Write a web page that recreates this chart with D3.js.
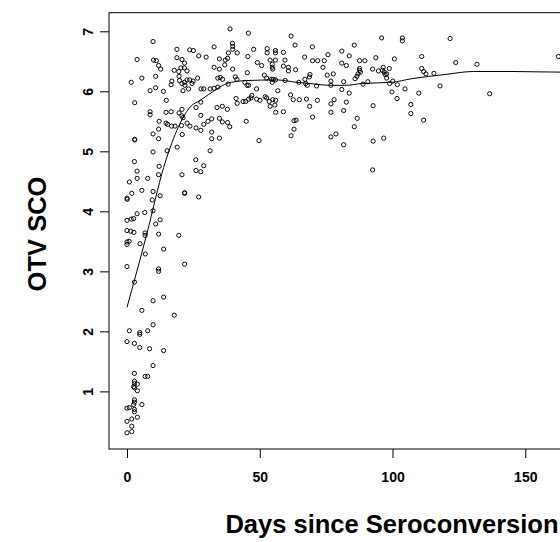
<!DOCTYPE html>
<html>
<head>
<meta charset="utf-8">
<script src="https://cdn.jsdelivr.net/npm/d3@7"></script>
<style>
  html, body { margin: 0; padding: 0; background: #fff; }
  svg { display: block; font-family: "Liberation Sans", Arial, Helvetica, sans-serif; }
</style>
</head>
<body>
<svg id="chart" width="560" height="542"></svg>
<script>
// ---- data ----
const days = [
  9.8,3.8,18.8,23.6,25.0,27.0,29.8,10.0,11.0,11.9,12.7,18.8,20.7,21.7,17.8,19.5,20.3,21.6,22.6,10.8,
  5.6,1.6,16.9,16.6,19.6,19.8,20.7,21.6,22.6,23.6,24.9,26.6,21.8,23.2,21.1,24.5,8.7,10.8,13.7,27.9,
  28.9,2.9,14.8,26.0,27.8,8.7,8.7,14.7,16.6,19.6,20.7,20.7,21.1,27.8,12.1,14.7,15.3,16.8,18.1,20.5,
  22.6,23.7,26.0,27.8,28.9,30.5,11.9,9.8,11.9,20.8,2.9,2.9,18.9,15.1,9.8,25.9,28.9,2.8,12.1,
  38.8,45.7,61.8,32.8,39.7,39.8,39.8,38.2,41.5,47.7,52.8,52.8,55.9,55.9,58.9,63.3,69.8,34.8,37.0,37.9,
  45.5,53.9,55.9,54.7,54.7,54.9,49.1,50.7,59.5,58.9,60.8,60.8,63.5,66.9,69.9,71.8,74.3,73.8,32.8,34.8,
  36.8,39.8,34.2,35.1,36.0,40.8,41.4,45.3,44.4,45.2,45.8,51.7,52.6,54.4,55.1,55.9,54.7,59.6,64.7,67.0,
  67.3,67.9,68.9,68.7,71.4,38.1,31.3,32.8,34.2,48.8,56.8,41.1,41.5,43.7,44.7,45.8,47.0,46.7,48.8,50.1,
  52.0,52.6,53.6,54.9,56.0,55.7,53.9,61.6,62.6,64.9,67.6,68.8,71.7,33.9,35.9,37.8,56.0,58.9,69.9,31.9,
  34.8,35.9,37.9,38.7,44.9,62.9,63.7,62.9,61.8,31.9,34.8,31.9,49.7,31.3,
  95.9,103.7,103.7,85.6,75.7,80.9,83.7,80.9,82.6,87.6,89.6,93.7,100.7,111.0,87.6,87.6,87.9,87.0,85.9,86.6,
  92.5,94.7,96.5,96.2,96.9,97.2,97.8,98.8,97.8,100.1,98.9,101.8,111.0,111.7,112.6,115.6,117.9,75.4,77.7,76.8,
  76.8,81.6,88.9,90.7,80.9,83.7,99.8,101.7,104.7,109.9,78.0,76.8,76.8,82.6,81.6,92.7,106.9,106.9,86.7,85.6,
  111.7,76.8,78.7,81.6,92.7,96.7,
  121.7,123.8,131.8,162.5,136.6,92.5,
  11.9,3.8,3.8,0.9,7.8,20.7,26.0,27.8,21.7,21.7,27.0,1.8,0,0.1,5.6,9.8,9.5,12.5,3.8,6.7,
  9.8,0,1.6,2.5,10.8,12.5,0,1.4,2.6,6.8,6.8,11.9,19.5,0,0.8,0,4.9,13.8,6.9,0,
  11.9,11.9,21.7,2.8,9.8,13.8,5.6,
  17.8,0.9,4.8,4.8,7.8,9.8,0,2.8,4.8,8.5,13.8,9.8,2.8,6.8,7.8,2.8,2.8,3.9,2.5,2.8,
  3.9,2.8,2.8,5.6,2.5,0,0.9,2.8,2.8,3.9,1.8,0,1.8,0,1.8
];
const sco = [
  6.83,6.53,6.70,6.69,6.68,6.59,6.57,6.52,6.51,6.43,6.37,6.56,6.53,6.47,6.35,6.33,6.39,6.39,6.34,6.25,
  6.22,6.15,6.17,6.11,6.25,6.18,6.13,6.15,6.19,6.19,6.17,6.22,6.10,6.04,6.01,6.13,6.01,6.06,6.00,6.04,
  6.04,5.81,5.85,5.73,5.82,5.66,5.61,5.65,5.66,5.64,5.70,5.59,5.56,5.60,5.50,5.47,5.45,5.42,5.42,5.43,
  5.47,5.42,5.39,5.35,5.45,5.50,5.37,5.29,5.21,5.28,5.20,5.19,5.07,5.01,4.99,4.86,4.76,4.83,4.75,
  7.04,6.97,6.92,6.74,6.80,6.75,6.70,6.64,6.64,6.70,6.71,6.64,6.68,6.64,6.65,6.77,6.74,6.54,6.52,6.55,
  6.58,6.52,6.52,6.45,6.40,6.37,6.48,6.43,6.52,6.42,6.40,6.34,6.36,6.57,6.51,6.51,6.51,6.40,6.40,6.37,
  6.44,6.37,6.22,6.23,6.20,6.24,6.20,6.31,6.15,6.10,6.10,6.27,6.22,6.20,6.20,6.19,6.15,6.18,6.15,6.20,
  6.13,6.10,6.28,6.24,6.09,6.12,6.04,6.05,6.07,6.04,6.01,5.88,5.80,5.83,5.83,5.87,5.93,5.89,5.87,5.85,
  5.91,5.89,5.83,5.86,5.85,5.77,5.75,5.94,5.86,5.86,5.87,5.75,5.85,5.73,5.75,5.70,5.65,5.66,5.57,5.54,
  5.55,5.49,5.48,5.41,5.50,5.51,5.52,5.37,5.26,5.32,5.22,5.21,5.18,5.01,
  6.89,6.89,6.84,6.77,6.61,6.67,6.59,6.47,6.43,6.51,6.51,6.56,6.54,6.58,6.38,6.35,6.32,6.29,6.21,6.25,
  6.37,6.34,6.40,6.35,6.32,6.28,6.29,6.38,6.22,6.17,6.13,6.11,6.38,6.33,6.29,6.30,6.09,6.27,6.29,6.17,
  6.10,6.16,6.12,6.16,6.03,5.97,5.99,5.88,6.04,5.97,5.86,5.79,5.65,5.82,5.68,5.76,5.78,5.63,5.55,5.41,
  5.52,5.24,5.29,5.11,5.17,5.22,
  6.88,6.48,6.45,6.58,5.96,4.69,
  4.61,4.67,4.55,4.49,4.55,4.61,4.68,4.66,4.31,4.30,4.24,4.30,4.22,4.20,4.35,4.33,4.19,4.26,3.96,3.98,
  4.01,3.85,3.87,3.88,3.79,3.86,3.68,3.67,3.65,3.64,3.60,3.62,3.60,3.49,3.50,3.45,3.46,3.37,3.29,3.08,
  3.04,3.00,3.12,2.82,2.51,2.57,2.35,
  2.27,2.01,1.98,1.95,2.01,2.11,1.83,1.80,1.73,1.71,1.68,1.43,1.30,1.25,1.25,1.17,1.13,1.12,1.08,1.06,
  1.01,0.86,0.82,0.78,0.78,0.72,0.73,0.70,0.66,0.57,0.54,0.50,0.42,0.31,0.33
];
// smooth (lowess) curve
const smoothDays = [0,7.5,13.8,18.8,23.8,27.6,33.9,37.6,45.1,56.4,63.9,68.9,76.5,82.1,88.4,99.7,107.2,119.8,130.4,145,163.1,169.5];
const smoothSco  = [2.40,3.63,4.73,5.35,5.74,5.85,6.04,6.13,6.18,6.19,6.15,6.13,6.10,6.10,6.13,6.15,6.21,6.28,6.33,6.33,6.32,6.32];
const xTicks = [0,50,100,150];
const yTicks = [1,2,3,4,5,6,7];
const xTitle = "Days since Seroconversion";
const yTitle = "OTV SCO";

// ---- drawing ----
const svg = d3.select("#chart");
const pLeft = 109, pRight = 594.3, pTop = 12.7, pBottom = 449;
const x = d3.scaleLinear().domain([-6.78, 176]).range([pLeft, pRight]);
const y = d3.scaleLinear().domain([0.04, 7.31]).range([pBottom, pTop]);

const pts = days.map((d, i) => ({d, v: sco[i]}));

svg.append("g")
  .selectAll("circle")
  .data(pts)
  .join("circle")
  .attr("cx", p => x(p.d))
  .attr("cy", p => y(p.v))
  .attr("r", 2.1)
  .attr("fill", "none")
  .attr("stroke", "#000")
  .attr("stroke-width", 0.95);

const line = d3.line()
  .x((d, i) => x(smoothDays[i]))
  .y((d, i) => y(smoothSco[i]))
  .curve(d3.curveMonotoneX);
svg.append("path")
  .datum(smoothDays)
  .attr("d", line)
  .attr("fill", "none")
  .attr("stroke", "#000")
  .attr("stroke-width", 1);

// frame
svg.append("rect")
  .attr("x", pLeft).attr("y", pTop)
  .attr("width", pRight - pLeft).attr("height", pBottom - pTop)
  .attr("fill", "none").attr("stroke", "#000").attr("stroke-width", 1);

// x axis
const gx = svg.append("g")
  .attr("transform", `translate(0,${pBottom})`)
  .call(d3.axisBottom(x).tickValues(xTicks).tickSize(9).tickPadding(14).tickFormat(d3.format("d")));
gx.select(".domain").remove();
gx.selectAll("line").attr("stroke", "#000");
gx.selectAll("text")
  .attr("font-family", "Liberation Sans, Arial, sans-serif")
  .attr("font-size", 14).attr("font-weight", "bold").attr("fill", "#000");

// y axis
const gy = svg.append("g")
  .attr("transform", `translate(${pLeft},0)`)
  .call(d3.axisLeft(y).tickValues(yTicks).tickSize(9).tickFormat(d3.format("d")));
gy.select(".domain").remove();
gy.selectAll("line").attr("stroke", "#000");
gy.selectAll("text")
  .attr("transform", "rotate(-90)")
  .attr("x", 0).attr("y", -16).attr("dy", 0)
  .attr("text-anchor", "middle")
  .attr("font-family", "Liberation Sans, Arial, sans-serif")
  .attr("font-size", 14).attr("font-weight", "bold").attr("fill", "#000");

// titles
svg.append("text")
  .attr("x", 392).attr("y", 533)
  .attr("text-anchor", "middle")
  .attr("font-size", 25.5).attr("font-weight", "bold")
  .text(xTitle);
svg.append("text")
  .attr("transform", `translate(46,234) rotate(-90)`)
  .attr("text-anchor", "middle")
  .attr("font-size", 25.5).attr("font-weight", "bold")
  .text(yTitle);
</script>
</body>
</html>
